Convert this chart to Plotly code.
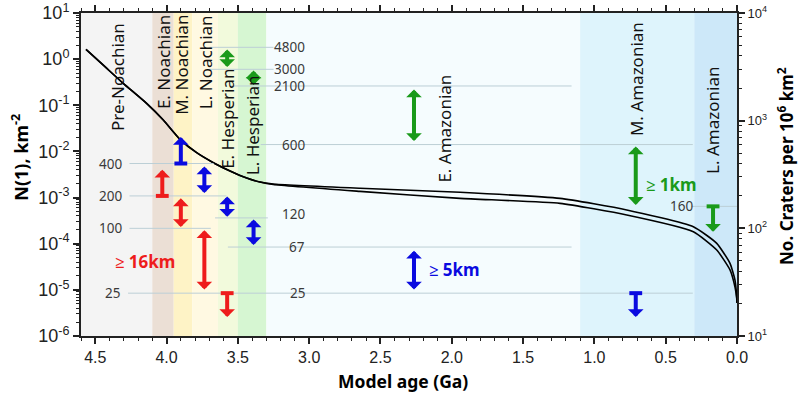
import numpy as np
import plotly.graph_objects as go

# ---------------- data ----------------
# model curves (age Ga, N(1) km^-2)
age_upper = [4.565, 4.432, 4.304, 4.140, 4.023, 3.906, 3.789, 3.672, 3.555, 3.438, 3.345, 3.252,
             2.644, 1.942, 1.241, 0.773, 0.306, 0.142, 0.049, 0.014, 0.002, 0.0]
n1_upper = [1.63, 0.686, 0.299, 0.110, 0.048, 0.0183, 0.00938, 0.0057, 0.00377, 0.00265, 0.00217, 0.00197,
            1.59e-3, 1.30e-3, 9.6e-4, 5.4e-4, 2.33e-4, 1.02e-4, 3.76e-5, 1.63e-5, 7.1e-6, 5.2e-6]
age_lower = [4.565, 4.432, 4.304, 4.140, 4.023, 3.906, 3.789, 3.672, 3.555, 3.438, 3.345, 3.252,
             2.644, 1.942, 1.241, 0.773, 0.306, 0.142, 0.049, 0.014, 0.002, 0.0]
n1_lower = [1.63, 0.686, 0.299, 0.110, 0.048, 0.0183, 0.00938, 0.0057, 0.00377, 0.00265, 0.00217, 0.00192,
            1.36e-3, 9.6e-4, 7.5e-4, 4.2e-4, 1.82e-4, 7.3e-5, 2.7e-5, 1.15e-5, 6.6e-6, 5.2e-6]

# epochs
era_names = ["Pre-Noachian", "E. Noachian", "M. Noachian", "L. Noachian", "E. Hesperian",
             "L. Hesperian", "E. Amazonian", "M. Amazonian", "L. Amazonian"]
era_start = [4.6, 4.1, 3.95, 3.82, 3.64, 3.5, 3.3, 1.1, 0.3]
era_end = [4.1, 3.95, 3.82, 3.64, 3.5, 3.3, 1.1, 0.3, 0.0]
era_colors = ["#f4f4f4", "#ebdfd5", "#fef3c6", "#fff9e2", "#f2fadc", "#d6f6d2", "#f5fcfe", "#def4fc", "#cde8f9"]

# reference crater-count lines (No. craters per 10^6 km^2)
ref_counts = [400, 200, 100, 25, 4800, 3000, 2100, 600, 125, 67, 160]
ref_start = [4.26, 4.26, 4.26, 4.27, 3.70, 3.70, 3.55, 3.34, 3.66, 3.57, 0.32]
ref_end = [3.67, 3.58, 3.69, 0.31, 3.25, 3.25, 1.16, 0.31, 3.29, 1.16, 0.0]

# count labels
lbl_text = ["400", "200", "100", "25", "4800", "3000", "2100", "600", "120", "67", "25", "160"]
lbl_age = [4.30, 4.30, 4.30, 4.31, 3.015, 3.015, 3.015, 3.015, 3.015, 3.015, 3.015, 0.295]
lbl_count = [400, 200, 100, 25, 4800, 3000, 2100, 600, 136, 67, 25, 162]

# arrows: age, from-count, to-count, kind
red_age = [4.03, 3.90, 3.735, 3.575]
red_from = [200, 196, 99, 25]
red_to = [350, 103, 27, 15]
red_kind = ["bar", "both", "both", "bar"]

blue_age = [3.90, 3.735, 3.575, 3.39, 2.265, 0.71]
blue_from = [400, 388, 204, 125, 64, 25]
blue_to = [706, 213, 128, 70, 27, 15]
blue_kind = ["bar", "both", "both", "both", "both", "bar"]

green_age = [3.575, 3.39, 2.265, 0.71, 0.168]
green_from = [4730, 3020, 2013, 594, 160]
green_to = [3150, 2145, 648, 165, 93]
green_kind = ["both", "both", "both", "both", "bar"]

# ticks
x_ticks = [4.5, 4.0, 3.5, 3.0, 2.5, 2.0, 1.5, 1.0, 0.5, 0.0]
y1_tickvals = [1e-6, 1e-5, 1e-4, 1e-3, 1e-2, 1e-1, 1, 10]
y1_ticktext = ["10<sup>-6</sup>", "10<sup>-5</sup>", "10<sup>-4</sup>", "10<sup>-3</sup>",
               "10<sup>-2</sup>", "10<sup>-1</sup>", "10<sup>0</sup>", "10<sup>1</sup>"]
y2_tickvals = [10, 100, 1000, 10000]
y2_ticktext = ["10<sup>1</sup>", "10<sup>2</sup>", "10<sup>3</sup>", "10<sup>4</sup>"]

RED = "#ee1c1c"
BLUE = "#0a0ae0"
GREEN = "#1a9a1a"
TXT = "#3a3a3a"
REFC = "#bccfd6"

fig = go.Figure()

# epoch bands
for s, e, c in zip(era_start, era_end, era_colors):
    fig.add_shape(type="rect", xref="x", yref="paper", x0=s, x1=e, y0=0, y1=1,
                  fillcolor=c, line=dict(width=0), layer="below")

# reference lines
for c, s, e in zip(ref_counts, ref_start, ref_end):
    fig.add_trace(go.Scatter(x=[s, e], y=[c, c], yaxis="y2", mode="lines",
                             line=dict(color=REFC, width=1), hoverinfo="skip", showlegend=False))

# curves
for ages, vals in [(age_upper, n1_upper), (age_lower, n1_lower)]:
    fig.add_trace(go.Scatter(x=ages, y=vals, mode="lines",
                             line=dict(color="black", width=1.6, shape="spline", smoothing=0.5),
                             hoverinfo="skip", showlegend=False))

# arrows
annotations = []
def add_arrows(ages, froms, tos, kinds, color):
    for a, f, t, k in zip(ages, froms, tos, kinds):
        annotations.append(dict(
            x=a, y=np.log10(t), ax=a, ay=np.log10(f), xref="x", yref="y2", axref="x", ayref="y2",
            text="", showarrow=True, arrowcolor=color, arrowwidth=4, arrowhead=1, arrowsize=0.65,
            arrowside="end+start" if k == "both" else "end",
            startarrowhead=1, startarrowsize=0.65, standoff=0, startstandoff=0))
        if k == "bar":
            fig.add_trace(go.Scatter(x=[a + 0.045, a - 0.045], y=[f, f], yaxis="y2", mode="lines",
                                     line=dict(color=color, width=4), hoverinfo="skip", showlegend=False))

add_arrows(red_age, red_from, red_to, red_kind, RED)
add_arrows(blue_age, blue_from, blue_to, blue_kind, BLUE)
add_arrows(green_age, green_from, green_to, green_kind, GREEN)

# count labels
for t, a, c in zip(lbl_text, lbl_age, lbl_count):
    annotations.append(dict(x=a, y=np.log10(c), xref="x", yref="y2", text=t, showarrow=False,
                            xanchor="right", yanchor="middle",
                            font=dict(family="Noto Sans", size=13.5, color=TXT)))

# era labels
era_lx = [4.34, 4.025, 3.90, 3.73, 3.57, 3.40, 2.05, 0.70, 0.168]
era_ly = [0.802, 0.848, 0.839, 0.848, 0.672, 0.653, 0.641, 0.796, 0.666]
for n, lx, ly in zip(era_names, era_lx, era_ly):
    annotations.append(dict(x=lx, y=ly, xref="x", yref="paper", text=n, showarrow=False,
                            textangle=-90, xanchor="center", yanchor="middle",
                            font=dict(family="Noto Sans", size=17, color="#111111")))

# diameter labels
for t, lx, ly, col in [("≥ 16km", 4.15, 0.232, RED), ("≥ 5km", 1.98, 0.207, BLUE), ("≥ 1km", 0.456, 0.47, GREEN)]:
    annotations.append(dict(x=lx, y=ly, xref="x", yref="paper", text="<b>" + t + "</b>", showarrow=False,
                            xanchor="center", yanchor="middle",
                            font=dict(family="Noto Sans", size=17, color=col)))

# axis titles
annotations.append(dict(x=-0.093, y=0.555, xref="paper", yref="paper", text="<b>N(1), km<sup>-2</sup></b>",
                        xanchor="center", yanchor="middle",
                        showarrow=False, textangle=-90, font=dict(family="Noto Sans", size=18, color="black")))
annotations.append(dict(x=0.491, y=-0.139, xref="paper", yref="paper", text="<b>Model age (Ga)</b>",
                        xanchor="center", yanchor="middle",
                        showarrow=False, font=dict(family="Noto Sans", size=17.5, color="black")))
annotations.append(dict(x=1.073, y=0.526, xref="paper", yref="paper",
                        text="<b>No. Craters per 10<sup>6</sup> km<sup>2</sup></b>",
                        xanchor="center", yanchor="middle",
                        showarrow=False, textangle=-90, font=dict(family="Noto Sans", size=17, color="black")))

y1_minor = [m * 10.0 ** e for e in range(-6, 1) for m in range(2, 10)]
y2_minor = [m * 10.0 ** e for e in range(1, 4) for m in range(2, 10)]

fig.update_layout(
    width=800, height=393,
    margin=dict(l=81, r=63, t=13, b=57, autoexpand=False),
    paper_bgcolor="white", plot_bgcolor="white",
    showlegend=False,
    annotations=annotations,
    xaxis=dict(range=[4.6, 0.0], tickvals=x_ticks, ticktext=[f"{v:.1f}" for v in x_ticks],
               automargin=False,
               ticks="outside", ticklen=6, tickwidth=1.5, tickcolor="#222",
               showline=True, linecolor="#222", linewidth=2, mirror="ticks",
               showgrid=False, zeroline=False,
               minor=dict(dtick=0.1, ticks="outside", ticklen=3, tickwidth=1.2, tickcolor="#222"),
               tickfont=dict(family="Liberation Sans", size=16, color="#222")),
    yaxis=dict(type="log", range=[-6, 1], tickvals=y1_tickvals, ticktext=y1_ticktext,
               automargin=False,
               ticks="outside", ticklen=6, tickwidth=1.5, tickcolor="#222",
               showline=True, linecolor="#222", linewidth=2,
               showgrid=False, zeroline=False,
               minor=dict(tickvals=y1_minor, ticks="outside", ticklen=3, tickwidth=1, tickcolor="#222"),
               tickfont=dict(family="Liberation Sans", size=18, color="#222")),
    yaxis2=dict(type="log", range=[1, 4], overlaying="y", side="right",
                tickvals=y2_tickvals, ticktext=y2_ticktext, automargin=False,
                ticks="outside", ticklen=6, tickwidth=1.5, tickcolor="#222",
                showline=True, linecolor="#222", linewidth=2,
                showgrid=False, zeroline=False,
                minor=dict(tickvals=y2_minor, ticks="outside", ticklen=3, tickwidth=1, tickcolor="#222"),
                tickfont=dict(family="Liberation Sans", size=13, color="#222")),
)

# remove the default 8px page margin so the 800x393 figure fills the window exactly
fig.write_html("out.html", config={"displayModeBar": False},
               post_script="document.body.style.margin='0px';")
